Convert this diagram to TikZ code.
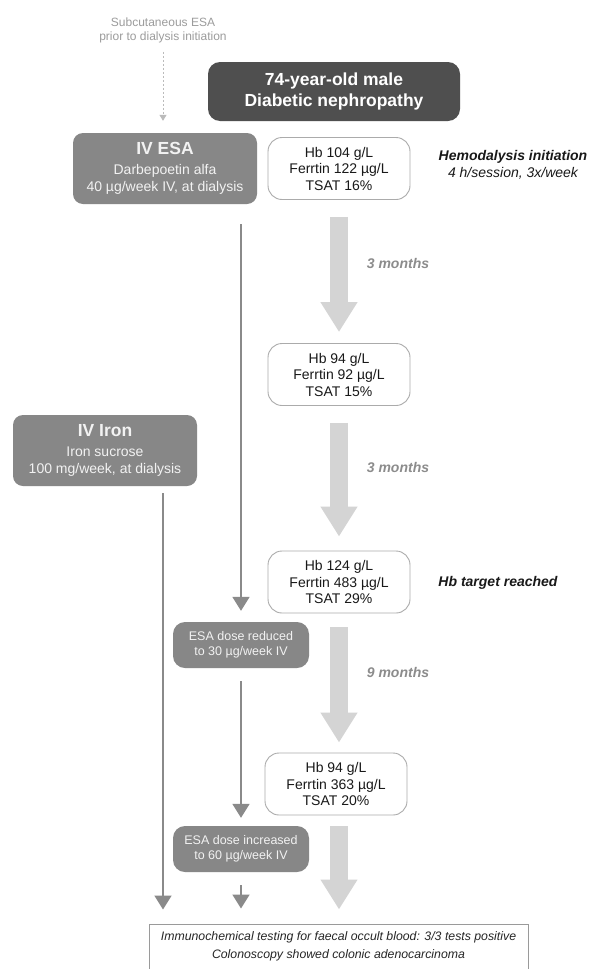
\documentclass[tikz,border=0pt]{standalone}
\usepackage{fontspec}
\setmainfont{Liberation Sans}
\usetikzlibrary{arrows.meta}
\definecolor{darkbox}{HTML}{4F4F4F}
\definecolor{midbox}{HTML}{878787}
\definecolor{linegray}{HTML}{8A8A8A}
\definecolor{biggray}{HTML}{D4D4D4}
\definecolor{hbborder}{HTML}{ABABAB}
\definecolor{labelgray}{HTML}{8C8C8C}
\definecolor{subgray}{HTML}{9C9C9C}
\definecolor{dashgray}{HTML}{BBBBBB}
\definecolor{boxtext}{HTML}{F2F2F2}
\definecolor{finalborder}{HTML}{9A9A9A}
\tikzset{
 patientbox/.style={fill=darkbox, rounded corners=12pt, minimum width=252pt, minimum height=59pt, inner sep=0pt, align=center, text=white, font=\bfseries\fontsize{17.5}{21}\selectfont},
 drugbox/.style={fill=midbox, rounded corners=10pt, minimum width=184pt, minimum height=71pt, inner sep=0pt, align=center, text=boxtext, font=\fontsize{14}{16.5}\selectfont},
 dosebox/.style={fill=midbox, rounded corners=12pt, minimum width=136pt, minimum height=46pt, inner sep=0pt, align=center, text=boxtext, font=\fontsize{12.5}{14.5}\selectfont},
 labbox/.style={draw=hbborder, line width=0.9pt, fill=white, rounded corners=14pt, minimum width=142pt, minimum height=62pt, inner sep=0pt, align=center, text=black!90, font=\fontsize{14}{16.5}\selectfont},
 notetext/.style={align=center, inner sep=0pt, text=black!90, font=\fontsize{14}{17}\selectfont},
 periodtext/.style={inner sep=0pt, text=labelgray, font=\bfseries\itshape\fontsize{14}{17}\selectfont},
 subtext/.style={align=center, inner sep=0pt, text=subgray, font=\fontsize{12}{14}\selectfont},
 bigarrow/.style={draw=biggray, line width=18pt, -{Triangle[width=35pt,length=30pt]}},
 thinarrow/.style={draw=linegray, line width=1.8pt, -{Triangle[width=17pt,length=14pt]}},
 dasharrow/.style={draw=dashgray, line width=1pt, dash pattern=on 2pt off 2pt, -{Triangle[width=7pt,length=6pt]}},
 finalbox/.style={draw=finalborder, line width=1pt, minimum width=379pt, minimum height=56pt, inner sep=0pt},
 finaltext/.style={align=center, inner sep=0pt, text=black!85, font=\itshape\fontsize{12.3}{18}\selectfont},
}
\begin{document}
\begin{tikzpicture}[x=1pt,y=-1pt]
\fill[white] (0,0) rectangle (591,969);
\useasboundingbox (0,0) rectangle (591,969);

% nodes
\node[subtext] (sub) at (163,30) {Subcutaneous ESA\\prior to dialysis initiation};
\node[patientbox] (patient) at (334,91.5) {74-year-old male\\Diabetic nephropathy};
\node[drugbox] (esa) at (165,168.5) {{\bfseries\fontsize{17.5}{20}\selectfont IV ESA}\\[3.5pt]Darbepoetin alfa\\40 µg/week IV, at dialysis};
\node[labbox] (hb1) at (339,168.5) {Hb 104 g/L\\Ferrtin 122 µg/L\\TSAT 16\%};
\node[notetext] (hemo) at (513,164.5) {\bfseries\itshape Hemodalysis initiation\\\itshape 4 h/session, 3x/week};
\node[labbox] (hb2) at (339,374.5) {Hb 94 g/L\\Ferrtin 92 µg/L\\TSAT 15\%};
\node[drugbox] (iron) at (105,450.5) {{\bfseries\fontsize{17.5}{20}\selectfont IV Iron}\\[3.5pt]Iron sucrose\\100 mg/week, at dialysis};
\node[labbox] (hb3) at (339,582) {Hb 124 g/L\\Ferrtin 483 µg/L\\TSAT 29\%};
\node[notetext] (target) at (498,583) {\bfseries\itshape Hb target reached};
\node[dosebox] (red) at (241,645) {ESA dose reduced\\to 30 µg/week IV};
\node[labbox] (hb4) at (336,784) {Hb 94 g/L\\Ferrtin 363 µg/L\\TSAT 20\%};
\node[dosebox] (inc) at (241,849) {ESA dose increased\\to 60 µg/week IV};
\node[finalbox] (final) at (338.5,952) {};
\node[finaltext, anchor=north] (finaltxt) at ([yshift=-8pt]final.north) {Immunochemical testing for faecal occult blood: 3/3 tests positive\\Colonoscopy showed colonic adenocarcinoma};

\node[periodtext] (m1) at (398,263) {3 months};
\node[periodtext] (m2) at (398,467) {3 months};
\node[periodtext] (m3) at (398,672) {9 months};

\coordinate (ironx) at (163,900);

% connectors
\draw[dasharrow, shorten <=9pt, shorten >=12pt] (sub.south) -- (sub.south |- esa.north);
\draw[bigarrow, shorten <=17pt, shorten >=11pt] (hb1.south) -- (hb2.north);
\draw[bigarrow, shorten <=17pt, shorten >=14pt] (hb2.south) -- (hb3.north);
\draw[bigarrow, shorten <=14pt, shorten >=10pt] (hb3.south) -- (hb4.north -| hb3.south);
\draw[bigarrow, shorten <=11pt, shorten >=14pt] (hb4.south -| hb3.south) -- (final.north -| hb3.south);
\draw[thinarrow, shorten <=20pt, shorten >=11pt] (red.north |- esa.south) -- (red.north);
\draw[thinarrow, shorten <=13pt, shorten >=8pt] (red.south) -- (inc.north);
\draw[thinarrow, shorten <=13pt, shorten >=15pt] (inc.south) -- (final.north -| inc.south);
\draw[thinarrow, shorten <=7pt, shorten >=14pt] (iron.south -| ironx) -- (final.north -| ironx);
\end{tikzpicture}
\end{document}
